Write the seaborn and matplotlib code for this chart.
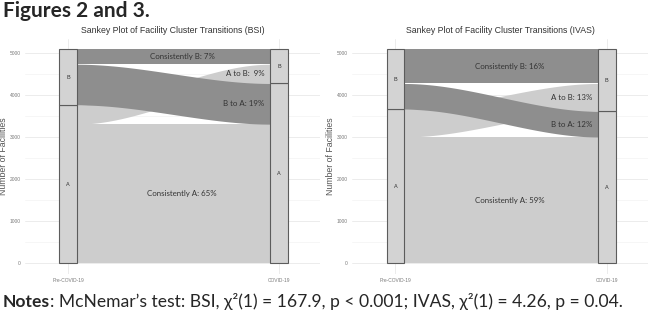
import numpy as np
import matplotlib
matplotlib.use("Agg")
import matplotlib.pyplot as plt
import seaborn as sns

# data
phases = ["Pre-COVID-19", "COVID-19"]
clusters = ["A", "B"]
flow_names = ["Consistently A", "A to B", "B to A", "Consistently B"]
bsi_pct = [65, 9, 19, 7]
ivas_pct = [59, 13, 12, 16]
bsi_labels = ["Consistently A: 65%", "A to B:  9%", "B to A: 19%", "Consistently B: 7%"]
ivas_labels = ["Consistently A: 59%", "A to B: 13%", "B to A: 12%", "Consistently B: 16%"]
n_facilities = 5090

sns.set_theme(style="whitegrid")
text_font = ["Lato", "Open Sans", "DejaVu Sans"]
axis_font = ["Liberation Sans", "DejaVu Sans"]
plt.rcParams["font.family"] = axis_font

light = "#cdcdcd"
dark = "#8e8e8e"
stratum_fill = "#d3d3d3"
stratum_edge = "#5c5c5c"
bar_w = 0.083


def draw_panel(ax, pct, labels, title):
    counts = np.array(pct) * n_facilities / 100
    # left side stacked by origin, right side stacked by destination
    left_order = [0, 1, 2, 3]
    right_order = [0, 2, 1, 3]
    left_lo = np.zeros(4)
    right_lo = np.zeros(4)
    acc = 0
    for i in left_order:
        left_lo[i] = acc
        acc += counts[i]
    acc = 0
    for i in right_order:
        right_lo[i] = acc
        acc += counts[i]

    x0 = 1 + bar_w / 2
    x1 = 2 - bar_w / 2
    t = np.linspace(0, 1, 300)
    s = 3 * t**2 - 2 * t**3
    xs = x0 + (x1 - x0) * t
    colors = [light, light, dark, dark]
    for i in [0, 1, 3, 2]:
        lo = left_lo[i] + (right_lo[i] - left_lo[i]) * s
        hi = lo + counts[i]
        ax.fill_between(xs, lo, hi, color=colors[i], lw=0, zorder=2)

    # strata
    a_pre = counts[0] + counts[1]
    a_post = counts[0] + counts[2]
    totals = {1: [a_pre, n_facilities - a_pre], 2: [a_post, n_facilities - a_post]}
    for x, (a, b) in totals.items():
        ax.bar(x, a, bottom=0, width=bar_w, color=stratum_fill,
               edgecolor=stratum_edge, lw=0.8, zorder=3)
        ax.bar(x, b, bottom=a, width=bar_w, color=stratum_fill,
               edgecolor=stratum_edge, lw=0.8, zorder=3)
        ax.text(x, a / 2, clusters[0], ha="center", va="center", fontsize=4,
                color="#333333", zorder=4)
        ax.text(x, a + b / 2, clusters[1], ha="center", va="center", fontsize=4,
                color="#333333", zorder=4)

    # flow labels
    for i in [0, 3]:
        ax.text(1.54, left_lo[i] + counts[i] / 2, labels[i], ha="center",
                va="center", fontsize=5.7, color="#333333", family=text_font, zorder=4)
    for i in [1, 2]:
        ax.text(1.93, right_lo[i] + counts[i] / 2, labels[i], ha="right",
                va="center", fontsize=5.7, color="#333333", family=text_font, zorder=4)

    ax.set_xlim(0.795, 2.195)
    ax.set_ylim(-255, 5345)
    ax.set_xticks([1, 2])
    ax.set_xticklabels(phases)
    ax.set_yticks(range(0, 6000, 1000))
    ax.set_yticks(range(500, 5500, 1000), minor=True)
    ax.grid(which="major", color="#e9e9e9", lw=0.6, zorder=0)
    ax.grid(which="minor", axis="y", color="#f3f3f3", lw=0.5, zorder=0)
    ax.tick_params(axis="both", which="both", length=0, labelsize=3.5,
                   labelcolor="#7a7a7a", pad=3)
    for sp in ax.spines.values():
        sp.set_visible(False)
    ax.set_xlabel("")
    ax.set_ylabel("Number of Facilities", fontsize=6.3, color="#555555")
    ax.yaxis.set_label_coords(-0.058, 0.5)
    ax.set_title(title, fontsize=6.3, color="#333333", pad=4)


fig = plt.figure(figsize=(6.5, 3.13), dpi=100)
ax1 = fig.add_axes([25 / 650, 39 / 313, 295 / 650, 235.5 / 313])
ax2 = fig.add_axes([352 / 650, 39 / 313, 296 / 650, 235.5 / 313])
draw_panel(ax1, bsi_pct, bsi_labels, "Sankey Plot of Facility Cluster Transitions (BSI)")
draw_panel(ax2, ivas_pct, ivas_labels, "Sankey Plot of Facility Cluster Transitions (IVAS)")

fig.text(3 / 650, 1 - 1 / 313, "Figures 2 and 3.", fontsize=15, fontweight="bold",
         family=text_font, va="top", ha="left")

notes = fig.text(3 / 650, 1 - 307 / 313, "Notes", fontsize=12.6, fontweight="bold",
                 family=text_font, va="baseline", ha="left")
fig.canvas.draw()
bb = notes.get_window_extent()
fig.text(bb.x1 / fig.bbox.width, 1 - 307 / 313,
         ": McNemar\u2019s test: BSI, \u03c7\u00b2(1) = 167.9, p < 0.001; IVAS, \u03c7\u00b2(1) = 4.26, p = 0.04.",
         fontsize=12.6, family=text_font, va="baseline", ha="left")

fig.savefig("out.png", dpi=100)
